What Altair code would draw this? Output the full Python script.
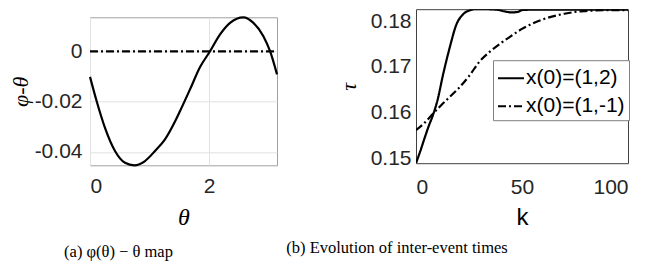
import altair as alt
import pandas as pd

# ---------------- data: panel (a) phi(theta) - theta map ----------------
theta = [0.0, 0.112, 0.252, 0.42, 0.588, 0.745, 0.924, 1.092, 1.26, 1.43,
         1.513, 1.68, 1.849, 2.017, 2.185, 2.353, 2.577, 2.745, 2.913, 3.025, 3.1416]
phi_minus_theta = [-0.0101, -0.0198, -0.0304, -0.0396, -0.0443, -0.0453, -0.0436,
                   -0.0396, -0.0350, -0.0278, -0.0237, -0.0151, -0.0062, 0.0001,
                   0.0068, 0.0114, 0.0136, 0.0114, 0.0061, 0.0001, -0.0091]
x_ticks_a = [0, 2]
y_ticks_a = [-0.04, -0.02, 0]

# ---------------- data: panel (b) evolution of inter-event times ----------------
series_names = ["x(0)=(1,2)", "x(0)=(1,-1)"]
k_solid = [0, 2, 4, 6, 8, 10, 13, 16, 19, 22, 25, 28, 32, 38, 42, 45, 48, 50,
           55, 60, 70, 80, 90, 100]
tau_solid = [0.1490, 0.1516, 0.1544, 0.1571, 0.1595, 0.1625, 0.1688, 0.1744,
             0.1792, 0.1814, 0.1823, 0.1826, 0.1826, 0.1825, 0.1821, 0.1819,
             0.1820, 0.1824, 0.1825, 0.1825, 0.1825, 0.1825, 0.1825, 0.1825]
k_dash = [0, 4, 8, 12, 16, 20, 25, 30, 35, 40, 45, 50, 55, 60, 65, 70, 75, 80, 90, 100]
tau_dash = [0.1562, 0.1578, 0.1598, 0.1617, 0.1635, 0.1653, 0.1680, 0.1712,
            0.1734, 0.1752, 0.1768, 0.1783, 0.1795, 0.1804, 0.1811, 0.1816,
            0.1820, 0.1822, 0.1824, 0.1824]
x_ticks_b = [0, 50, 100]
y_ticks_b = [0.15, 0.16, 0.17, 0.18]

caption_a = "(a) φ(θ) − θ map"
caption_b = "(b) Evolution of inter-event times"

SANS = "Liberation Sans"
SERIF = "Liberation Serif"
LABEL_COLOR = "#262626"
LABEL_SIZE = 21
CAPTION_SIZE = 16.5

# ---------------- panel (a) ----------------
df_a = pd.DataFrame({"theta": theta, "val": phi_minus_theta})
base_a = alt.Chart(df_a)

curve_a = base_a.mark_line(color="black", strokeWidth=2.2, interpolate="monotone").encode(
    x=alt.X("theta:Q", scale=alt.Scale(nice=False, zero=False),
            axis=alt.Axis(orient="bottom", values=x_ticks_a, format="d", title="θ",
                          labelFont=SANS, labelFontSize=LABEL_SIZE, labelColor=LABEL_COLOR,
                          titleFont=SERIF, titleFontStyle="italic", titleFontWeight="normal",
                          titleFontSize=24, titlePadding=9, labelPadding=10, titleColor="black",
                          grid=True, gridColor="#e2e2e2", domain=False, ticks=False)),
    y=alt.Y("val:Q", scale=alt.Scale(nice=False, zero=False),
            axis=alt.Axis(values=y_ticks_a, title="φ-θ",
                          labelExpr="datum.value == 0 ? '0' : (datum.value < 0 ? '-' : '') + format(abs(datum.value), '.2f')",
                          labelFont=SANS, labelFontSize=LABEL_SIZE, labelColor=LABEL_COLOR,
                          titleFont=SERIF, titleFontStyle="italic", titleFontWeight="normal",
                          titleFontSize=22, titlePadding=2, labelPadding=8, titleColor="black",
                          grid=True, gridColor="#e2e2e2", domain=False, ticks=False)),
)

zero_rule = base_a.mark_rule(color="black", strokeWidth=2.2, strokeDash=[8, 3, 2, 3]).encode(
    x=alt.X("min(theta):Q"),
    x2="max(theta):Q",
    y=alt.datum(0),
)

left = alt.layer(curve_a, zero_rule).properties(
    width=187, height=148,
    view=alt.ViewBackground(stroke="#a0a0a0", strokeWidth=1),
    title=alt.TitleParams(caption_a, orient="bottom", anchor="middle", frame="group",
                          dx=-65, offset=14.4, font=SERIF, fontSize=CAPTION_SIZE,
                          fontWeight="normal", color="black"),
)

# ---------------- panel (b) ----------------
df_b = pd.concat([
    pd.DataFrame({"k": k_solid, "tau": tau_solid, "series": series_names[0]}),
    pd.DataFrame({"k": k_dash, "tau": tau_dash, "series": series_names[1]}),
], ignore_index=True)

right = alt.Chart(df_b).mark_line(color="black", strokeWidth=2.2,
                                  interpolate="monotone", clip=True).encode(
    x=alt.X("k:Q", scale=alt.Scale(nice=False, zero=False),
            axis=alt.Axis(values=x_ticks_b, format="d", title="k", titleFont=SANS,
                          labelFont=SANS, labelFontSize=LABEL_SIZE, labelColor=LABEL_COLOR,
                          titleFontWeight="normal", titleFontSize=24, titlePadding=8,
                          titleColor="black",
                          labelPadding=13, grid=False, domain=False, ticks=False)),
    y=alt.Y("tau:Q", scale=alt.Scale(nice=False, zero=False),
            axis=alt.Axis(values=y_ticks_b, format=".2f", title="τ", titleFont=SERIF,
                          labelFont=SANS, labelFontSize=LABEL_SIZE, labelColor=LABEL_COLOR,
                          titleFontStyle="italic", titleFontWeight="normal", titleColor="black",
                          titleFontSize=22, titlePadding=10, labelPadding=5,
                          grid=False, domain=False, ticks=False)),
    strokeDash=alt.StrokeDash(
        "series:N",
        scale=alt.Scale(domain=series_names, range=[[1, 0], [8, 3, 2, 3]]),
        legend=alt.Legend(orient="none", legendX=77, legendY=51, title=None,
                          direction="vertical", labelFont=SANS, labelFontSize=21,
                          labelColor="black", symbolType="stroke", symbolSize=676,
                          symbolStrokeWidth=2, symbolStrokeColor="black",
                          labelOffset=1, rowPadding=4, padding=4,
                          strokeColor="#808080", fillColor="white", labelLimit=400),
    ),
).properties(
    width=212, height=154,
    view=alt.ViewBackground(stroke="#404040", strokeWidth=1),
    title=alt.TitleParams(caption_b, orient="bottom", anchor="middle", frame="group",
                          dx=-125, offset=11, font=SERIF, fontSize=CAPTION_SIZE,
                          fontWeight="normal", color="black",
                          subtitle=" ", subtitleFontSize=8, subtitlePadding=3.6),
)

chart = alt.concat(left, right, columns=2, spacing=3, bounds="full",
                   align="each", center=True).resolve_legend(
    strokeDash="independent"
).properties(
    padding={"left": 0, "top": 0, "right": 0, "bottom": 0},
).configure(background="white")

chart.save("out.html", embed_options={"renderer": "svg", "actions": False})
